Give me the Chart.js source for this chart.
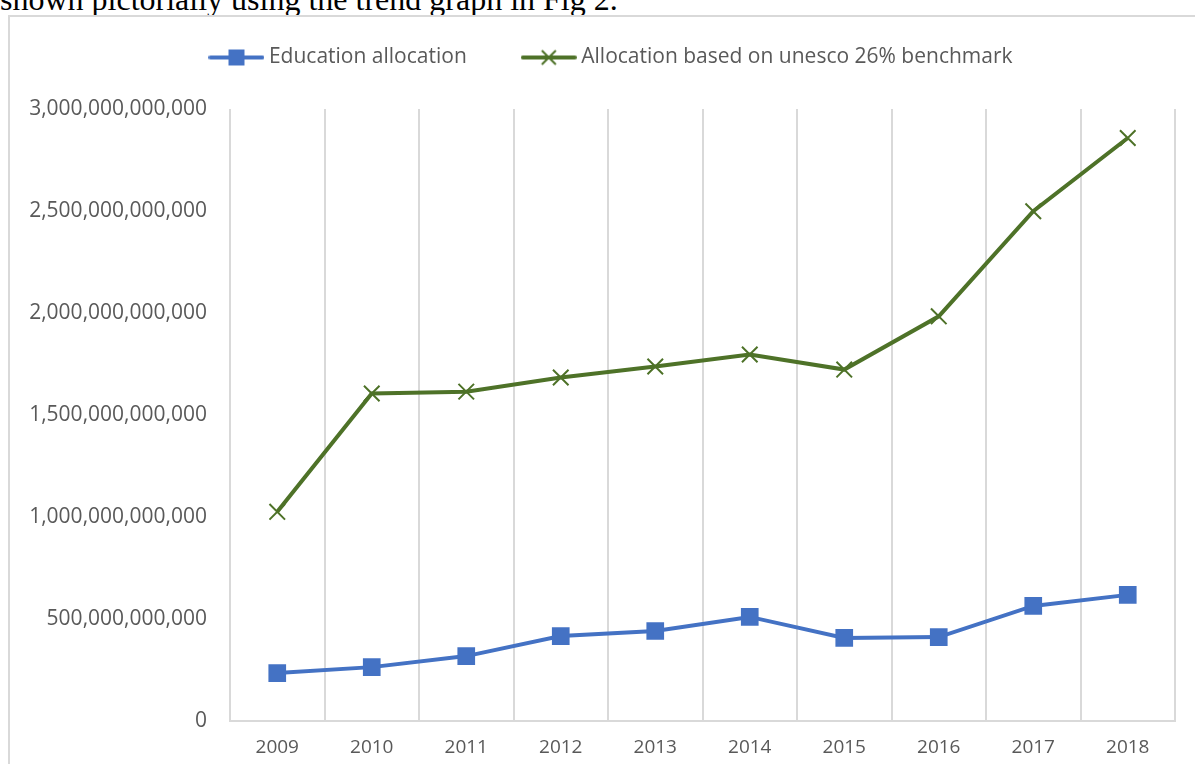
<!DOCTYPE html>
<html>
<head>
<meta charset="utf-8">
<script src="https://cdn.jsdelivr.net/npm/chart.js@4.4.1/dist/chart.umd.min.js"></script>
<style>
  html, body { margin: 0; padding: 0; background: #fff; overflow: hidden; }
  body { width: 1195px; height: 764px; position: relative; }
  #caption {
    position: absolute; left: 0; top: -17px; white-space: nowrap; line-height: 32px;
    font-family: "Liberation Serif", "Times New Roman", serif; font-size: 32px; color: #000;
  }
  #frame {
    position: absolute; left: 8px; top: 15px; width: 1200px; height: 780px;
    border: 2px solid #d9d9d9; box-sizing: border-box;
  }
  /* canvas reaches a little above the frame so the legend can sit high */
  #chartWrap { position: absolute; left: 0; top: -40px; width: 1196px; height: 816px; }
</style>
</head>
<body>
<div id="caption">shown pictorially using the trend graph in Fig 2.</div>
<div id="frame">
  <div id="chartWrap"><canvas id="trendChart"></canvas></div>
</div>
<script>
// --- DATA ---
const years = ['2009', '2010', '2011', '2012', '2013', '2014', '2015', '2016', '2017', '2018'];
const educationAllocation = [
  236e9, 265e9, 319e9, 417e9, 442e9, 511e9, 408e9, 412e9, 565e9, 619e9
];
const unescoBenchmark = [
  1026e9, 1606e9, 1615e9, 1684e9, 1738e9, 1797e9, 1723e9, 1984e9, 2499e9, 2858e9
];
const seriesNames = ['Education allocation', 'Allocation based on unesco 26% benchmark'];

const BLUE = '#4472c4';
const GREEN = '#4e7228';
const TEXT = '#595959';
const GRID = '#d9d9d9';

// Legend swatches: short line with marker on it (like Excel)
function legendIcon(color, marker) {
  const c = document.createElement('canvas');
  c.width = 56; c.height = 20;
  const g = c.getContext('2d');
  g.strokeStyle = color; g.lineWidth = 4; g.lineCap = 'round';
  g.beginPath(); g.moveTo(2, 10); g.lineTo(54, 10); g.stroke();
  if (marker === 'square') {
    g.fillStyle = color; g.fillRect(20, 2, 16, 16);
  } else {
    g.lineWidth = 2; g.lineCap = 'butt';
    g.beginPath();
    g.moveTo(21, 3); g.lineTo(35, 17);
    g.moveTo(35, 3); g.lineTo(21, 17);
    g.stroke();
  }
  return c;
}
const blueIcon = legendIcon(BLUE, 'square');
const greenIcon = legendIcon(GREEN, 'cross');

// Extra room under the legend, and nudge it right to sit where Excel put it
const legendTweak = {
  id: 'legendTweak',
  beforeInit(chart) {
    const origFit = chart.legend.fit;
    chart.legend.fit = function () {
      origFit.bind(chart.legend)();
      this.height += 31;
    };
  },
  afterLayout(chart) {
    chart.legend.left += 21;
    chart.legend.right += 21;
  }
};

const ctx = document.getElementById('trendChart');
new Chart(ctx, {
  type: 'line',
  data: {
    labels: years,
    datasets: [
      {
        label: seriesNames[0],
        data: educationAllocation,
        borderColor: BLUE,
        backgroundColor: BLUE,
        borderWidth: 4,
        pointStyle: 'rect',
        pointRadius: 12.5,
        pointBorderWidth: 0,
        tension: 0
      },
      {
        label: seriesNames[1],
        data: unescoBenchmark,
        borderColor: GREEN,
        backgroundColor: GREEN,
        borderWidth: 4,
        pointStyle: 'cross',
        pointRotation: 45,
        pointRadius: 11,
        pointBorderWidth: 2,
        tension: 0
      }
    ]
  },
  options: {
    responsive: true,
    maintainAspectRatio: false,
    animation: false,
    layout: { padding: { top: 10, right: 31, bottom: 19, left: 0 } },
    plugins: {
      tooltip: { enabled: false },
      legend: {
        position: 'top',
        labels: {
          color: TEXT,
          font: { family: '"Open Sans", sans-serif', size: 21 },
          usePointStyle: true,
          pointStyleWidth: 44,
          boxHeight: 20,
          padding: 60,
          generateLabels: (chart) => chart.data.datasets.map((ds, i) => ({
            text: ds.label,
            pointStyle: i === 0 ? blueIcon : greenIcon,
            datasetIndex: i,
            hidden: false,
            lineWidth: 0,
            fontColor: TEXT
          }))
        }
      }
    },
    scales: {
      x: {
        offset: true,
        grid: { display: true, offset: true, color: GRID, lineWidth: 2, drawTicks: false },
        border: { display: true, color: GRID, width: 2 },
        ticks: {
          color: TEXT, padding: 15,
          font: { family: '"Open Sans", sans-serif', size: 19 }
        }
      },
      y: {
        min: 0, max: 3e12,
        grid: { display: false, drawTicks: false },
        border: { display: false },
        afterFit: (scale) => { scale.width = 220; },
        ticks: {
          stepSize: 5e11,
          color: TEXT, padding: 23,
          font: { family: '"Open Sans", sans-serif', size: 21 },
          callback: (v) => Number(v).toLocaleString('en-US')
        }
      }
    }
  },
  plugins: [legendTweak]
});
</script>
</body>
</html>
